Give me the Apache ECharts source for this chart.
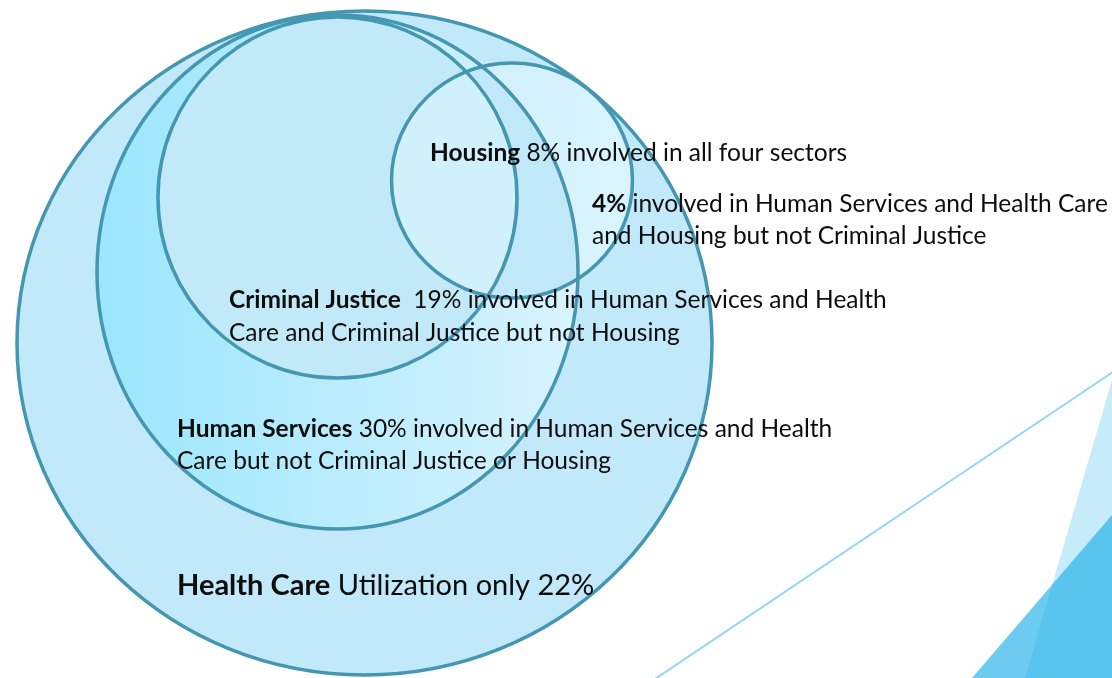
<!DOCTYPE html>
<html><head><meta charset="utf-8">
<script src="https://cdn.jsdelivr.net/npm/echarts@6/dist/echarts.min.js"></script>
<style>html,body{margin:0;padding:0;background:#fff}#c{width:1112px;height:678px}</style>
</head><body><div id="c"></div>
<script>
// Sets (drawn bottom to top)
const sectors = ['Health Care', 'Human Services', 'Criminal Justice', 'Housing'];
const centerX = [364.5, 337.5, 337.5, 512];
const centerY = [343, 272, 197.5, 180.5];
const radiusX = [347.5, 240.5, 179.5, 120.5];
const radiusY = [332, 257, 180.5, 117.5];

// Shares of each region
const shareHealthOnly = 22;
const shareHumanServices = 30;
const shareCriminalJustice = 19;
const shareAllFour = 8;
const shareNoCriminal = 4;

// Text lines
const labelText = [
  '{b|Housing} ' + shareAllFour + '% involved in all four sectors',
  '{b|' + shareNoCriminal + '%} involved in Human Services and Health Care',
  'and Housing but not Criminal Justice',
  '{b|Criminal Justice}  ' + shareCriminalJustice + '% involved in Human Services and Health',
  'Care and Criminal Justice but not Housing',
  '{b|Human Services} ' + shareHumanServices + '% involved in Human Services and Health',
  'Care but not Criminal Justice or Housing',
  '{b|Health Care} Utilization only ' + shareHealthOnly + '%'
];
const labelX = [430, 592, 592, 229, 229, 177, 177, 177];
const labelY = [153, 204, 236, 300, 333, 429, 461, 586];
const labelSize = [24.5, 24.5, 24.5, 24.5, 24.5, 24.5, 24.5, 29];

const FONT = 'Lato';
const STROKE = '#4597b1';
const LG = echarts.graphic.LinearGradient;
const fills = [
  '#c1e9f9',
  new LG(0, 0, 1, 0, [{offset: 0, color: '#9be6fd'}, {offset: 1, color: '#d8f3fd'}]),
  '#c2e9f8',
  new LG(0, 0, 1, 0, [{offset: 0, color: '#cdeffc'}, {offset: 1, color: '#d9f4fd'}])
];

const circleData = sectors.map((s, i) => ({name: s, value: [centerX[i], centerY[i], radiusX[i], radiusY[i]]}));

function ell(api, idx) {
  const c = api.coord([centerX[idx], centerY[idx]]);
  const s = api.size([radiusX[idx], radiusY[idx]], [centerX[idx], centerY[idx]]);
  return {cx: c[0], cy: c[1], rx: s[0], ry: s[1]};
}

const chart = echarts.init(document.getElementById('c'), null, {renderer: 'canvas'});
chart.setOption({
  animation: false,
  backgroundColor: '#ffffff',
  grid: {left: 0, right: 0, top: 0, bottom: 0},
  xAxis: {type: 'value', min: 0, max: 1112, show: false},
  yAxis: {type: 'value', min: 0, max: 678, inverse: true, show: false},
  graphic: [
    {type: 'polygon', z: 0, shape: {points: [[1112, 380], [1025, 678], [1112, 678]]}, style: {fill: '#c6ecf9'}},
    {type: 'polygon', z: 1, shape: {points: [[1112, 515], [972, 678], [1112, 678]]}, style: {fill: 'rgba(30,175,230,0.65)'}},
    {type: 'line', z: 2, shape: {x1: 655, y1: 679, x2: 1113, y2: 372}, style: {stroke: '#90d7f1', lineWidth: 2}}
  ],
  series: [
    {
      type: 'custom', name: 'fills', clip: false, z: 2,
      data: circleData,
      renderItem(params, api) {
        const i = params.dataIndex;
        return {type: 'ellipse', shape: ell(api, i), style: {fill: fills[i]}};
      }
    },
    {
      // Housing ∩ Human Services outside Criminal Justice is darker
      type: 'custom', name: 'overlap', clip: false, z: 3,
      data: [0],
      renderItem(params, api) {
        const hs = ell(api, 1), cj = ell(api, 2), ho = ell(api, 3);
        return {type: 'group', children: [
          {type: 'ellipse', shape: hs, style: {fill: '#c0e8f8'}, clipPath: {type: 'ellipse', shape: ho}},
          {type: 'ellipse', shape: cj, style: {fill: '#d0f0fc'}, clipPath: {type: 'ellipse', shape: ho}}
        ]};
      }
    },
    {
      type: 'custom', name: 'outlines', clip: false, z: 4,
      data: circleData,
      renderItem(params, api) {
        const i = params.dataIndex;
        return {type: 'ellipse', shape: ell(api, i), style: {fill: 'none', stroke: STROKE, lineWidth: 3.5}};
      }
    },
    {
      type: 'custom', name: 'labels', clip: false, z: 5,
      data: labelText.map((t, i) => [labelX[i], labelY[i]]),
      renderItem(params, api) {
        const i = params.dataIndex;
        const c = api.coord([labelX[i], labelY[i]]);
        return {
          type: 'text', x: c[0], y: c[1],
          style: {
            text: labelText[i], fill: '#0d0d0d', align: 'left', verticalAlign: 'middle',
            fontFamily: FONT, fontSize: labelSize[i],
            rich: {b: {fontWeight: 'bold', fontFamily: FONT, fontSize: labelSize[i], fill: '#0d0d0d'}}
          }
        };
      }
    }
  ]
});
</script>
</body></html>
